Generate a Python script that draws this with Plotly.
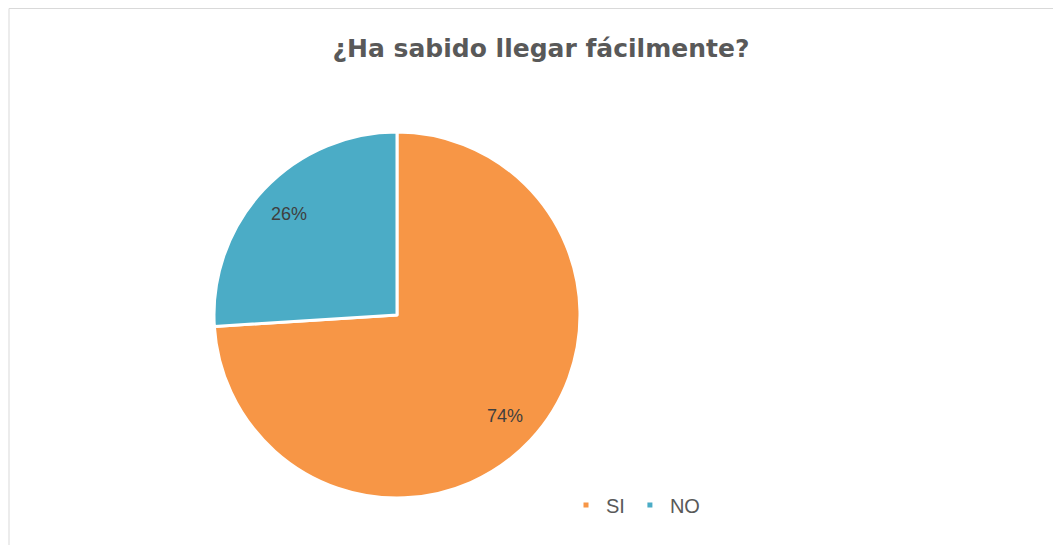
import math
import plotly.graph_objects as go

categories = ["SI", "NO"]
values = [74, 26]
colors = ["#F79646", "#4BACC6"]
title_text = "¿Ha sabido llegar fácilmente?"

W, H = 1061, 545
OFF = 8  # page body margin


def px(x):
    return (x - OFF) / W


def py(y):
    return 1 - (y - OFF) / H


cx, cy, R = 397, 315, 183

fig = go.Figure()
fig.add_trace(go.Pie(
    labels=categories, values=values, sort=False, direction="clockwise", rotation=0,
    marker=dict(colors=colors, line=dict(color="white", width=3)),
    textinfo="none", hoverinfo="label+percent", showlegend=False,
    domain=dict(x=[px(cx - R), px(cx + R)], y=[py(cy + R), py(cy - R)]),
))

# legend entries via small square markers
for lab, col in zip(categories, colors):
    fig.add_trace(go.Scatter(x=[None], y=[None], mode="markers", name=lab,
                             marker=dict(symbol="square", size=5, color=col)))

# percentage labels at slice mid-angles
total = sum(values)
cum = 0
for v in values:
    mid = (cum + v / 2) / total * 360
    cum += v
    ang = math.radians(90 - mid)
    r = 0.81 * R
    lx = cx + r * math.cos(ang)
    ly = cy - r * math.sin(ang)
    fig.add_annotation(x=px(lx), y=py(ly), xref="paper", yref="paper",
                       xanchor="center", yanchor="middle",
                       text=f"{round(v / total * 100)}%", showarrow=False,
                       font=dict(family="Liberation Sans", size=18, color="#3F3F3F"))

fig.add_shape(type="rect", xref="paper", yref="paper", x0=px(9), y0=-0.05, x1=1.05,
              y1=1 - 0.5 / H, line=dict(color="#D9D9D9", width=1))

fig.update_layout(
    width=W, height=H, margin=dict(l=0, r=0, t=0, b=0),
    paper_bgcolor="white", plot_bgcolor="white",
    title=dict(text=title_text, x=px(541), xanchor="center", y=py(48), yanchor="middle",
               font=dict(family="DejaVu Sans", size=25, color="#595959", weight="bold")),
    xaxis=dict(visible=False), yaxis=dict(visible=False),
    legend=dict(orientation="h", x=px(566), y=py(505), xanchor="left", yanchor="middle",
                font=dict(family="Liberation Sans", size=20, color="#595959"),
                itemwidth=30, bgcolor="rgba(0,0,0,0)"),
)

fig.write_html("out.html")
